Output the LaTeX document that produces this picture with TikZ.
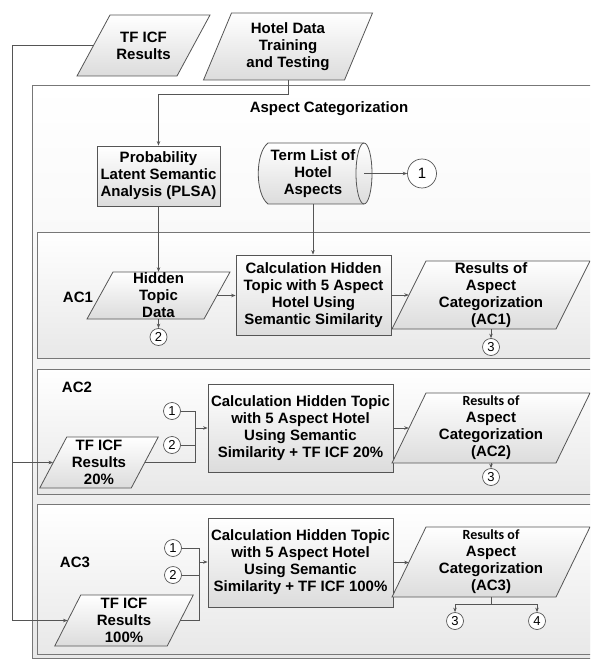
\documentclass[tikz,border=0pt]{standalone}
\usepackage{fontspec}
\setmainfont{Liberation Sans}
\newfontfamily\carl{Carlito}
\usetikzlibrary{arrows.meta,calc}
\definecolor{ln}{HTML}{555555}
\definecolor{boxbot}{HTML}{DCDCDC}
\definecolor{bigbot}{HTML}{E8E8E8}
\tikzset{
  txt/.style={font=\bfseries\fontsize{15}{17}\selectfont, align=center, inner sep=0pt},
  rectbox/.style={txt, draw=ln, line width=0.8pt, top color=white, bottom color=boxbot},
  parashape/.style={draw=ln, line width=0.8pt, top color=white, bottom color=boxbot},
  bigbox/.style={draw=ln!80, line width=0.9pt, top color=white, bottom color=bigbot},
  circ/.style={circle, draw=ln, line width=0.7pt, fill=white, minimum size=17pt, inner sep=0pt, font=\fontsize{13}{13}\selectfont},
  conn/.style={draw=ln, line width=0.7pt},
  arr/.style={conn, -{Stealth[length=4.5pt,width=3.5pt]}},
}
\newcommand{\myparabox}[7]{%
  \path[parashape] ({#2-#4/2+#6/2},{#3-#5/2}) -- ({#2+#4/2+#6/2},{#3-#5/2}) -- ({#2+#4/2-#6/2},{#3+#5/2}) -- ({#2-#4/2-#6/2},{#3+#5/2}) -- cycle;
  \node[txt, minimum width=#4, minimum height=#5] (#1) at (#2,#3) {#7};}
\begin{document}
\begin{tikzpicture}[x=1pt,y=-1pt]
\useasboundingbox (0,0) rectangle (590,660);
\clip (0,0) rectangle (590,660);
\fill[white] (0,0) rectangle (590,660);
% containers
\path[bigbox] (32,85) rectangle (612,658);
\path[bigbox] (37,232) rectangle (612,358);
\path[bigbox] (37,369) rectangle (612,494);
\path[bigbox] (37,504) rectangle (612,654);
\node[txt] (title) at (329,109) {Aspect Categorization};
\node[txt] (lab1) at (78,297) {AC1};
\node[txt] (lab2) at (77,387) {AC2};
\node[txt] (lab3) at (75,562) {AC3};
% top inputs
\myparabox{tficf}{143.5}{45.5}{100}{61}{33}{TF ICF\\Results}
\myparabox{hotel}{288}{46.5}{141}{67}{28}{Hotel Data\\Training\\and Testing}
% PLSA
\node[rectbox, minimum width=123, minimum height=60] (plsa) at (158.5,176) {Probability\\Latent Semantic\\Analysis (PLSA)};
% cylinder
\path[parashape] (268,143) -- (364,143)
  .. controls (368.4,143) and (372,156.7) .. (372,173.5)
  .. controls (372,190.3) and (368.4,204) .. (364,204)
  -- (268,204) .. controls (255,194) and (255,153) .. cycle;
\draw[ln, line width=0.8pt] (364,143) .. controls (359.6,143) and (356,156.7) .. (356,173.5)
  .. controls (356,190.3) and (359.6,204) .. (364,204);
\node[txt, minimum width=96, minimum height=61] (term) at (313,173.5) {Term List of\\Hotel\\Aspects};
\coordinate (termr) at (364,173.5);
\node[circ, minimum size=29pt, font=\fontsize{15}{15}\selectfont] (c1top) at (422,173.5) {1};
% AC1
\myparabox{hidden}{158.5}{295.5}{117}{47}{26}{Hidden\\Topic\\Data}
\node[rectbox, minimum width=155, minimum height=80] (calc1) at (313.5,295) {Calculation Hidden\\Topic with 5 Aspect\\Hotel Using\\Semantic Similarity};
\myparabox{res1}{491}{295}{164}{68}{34}{Results of\\Aspect\\Categorization\\(AC1)}
\node[circ] (h2) at (158.5,337) {2};
\node[circ] (r3a) at (491,347) {3};
% AC2
\myparabox{tf20}{99}{462.5}{91.5}{51}{27}{TF ICF\\Results\\20\%}
\node[circ] (c1b) at (172,411) {1};
\node[circ] (c2b) at (172,445) {2};
\coordinate (j2) at (195,428);
\node[rectbox, minimum width=185, minimum height=88] (calc2) at (300.5,428) {Calculation Hidden Topic\\with 5 Aspect Hotel\\Using Semantic\\Similarity + TF ICF 20\%};
\myparabox{res2}{491}{428}{164}{70}{34}{{\carl\fontsize{14}{17}\selectfont Results of}\\Aspect\\Categorization\\(AC2)}
\node[circ] (r3b) at (491,477) {3};
% AC3
\myparabox{tf100}{124}{620.5}{112.5}{51}{26}{TF ICF\\Results\\100\%}
\node[circ] (c1c) at (173,548) {1};
\node[circ] (c2c) at (173,575) {2};
\coordinate (j3) at (199,562);
\node[rectbox, minimum width=185, minimum height=89] (calc3) at (300.5,562.5) {Calculation Hidden Topic\\with 5 Aspect Hotel\\Using Semantic\\Similarity + TF ICF 100\%};
\myparabox{res3}{491}{562}{164}{70}{34}{{\carl\fontsize{14}{17}\selectfont Results of}\\Aspect\\Categorization\\(AC3)}
\node[circ] (r3c) at (455,621) {3};
\node[circ] (r4c) at (537,621) {4};
% connectors top
\draw[arr] (tficf.west) -- ++(-80.5,0) coordinate (lt) |- (tf100.west);
\draw[arr] (lt |- tf20.west) -- (tf20.west);
\draw[arr] (hotel.south) -- ++(0,14) -| (plsa.north);
\draw[arr] (plsa.south) -- (plsa.south |- hidden.north);
\draw[arr] (termr) -- (c1top.west);
\draw[arr] (term.south) -- (term.south |- calc1.north);
% AC1 connectors
\draw[arr] (hidden.east) -- (hidden.east -| calc1.west);
\draw[arr] (calc1.east) -- (calc1.east -| res1.west);
\draw[arr] (hidden.south) -- (h2.north);
\draw[arr] (res1.south) -- (r3a.north);
% AC2 connectors
\draw[conn] (c1b.east) -| (tf20.east -| j2) -- (tf20.east);
\draw[conn] (c2b.east) -- (c2b.east -| j2);
\draw[arr] (j2) -- (j2 -| calc2.west);
\draw[arr] (calc2.east) -- (calc2.east -| res2.west);
\draw[arr] (res2.south) -- (r3b.north);
% AC3 connectors
\draw[conn] (c1c.east) -| (tf100.east -| j3) -- (tf100.east);
\draw[conn] (c2c.east) -- (c2c.east -| j3);
\draw[arr] (j3) -- (j3 -| calc3.west);
\draw[arr] (calc3.east) -- (calc3.east -| res3.west);
\draw[conn] (res3.south) -- ++(0,7) coordinate (k3);
\draw[arr] (k3) -| (r3c.north);
\draw[arr] (k3) -| (r4c.north);
\end{tikzpicture}
\end{document}
